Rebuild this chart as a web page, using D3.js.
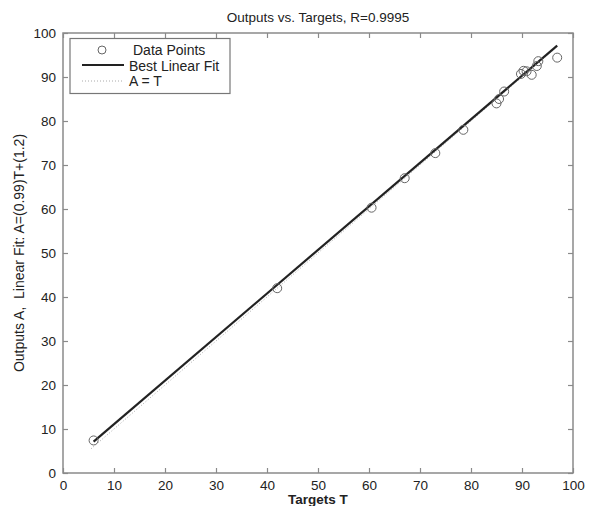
<!DOCTYPE html>
<html>
<head>
<meta charset="utf-8">
<script src="https://cdn.jsdelivr.net/npm/d3@7"></script>
<style>
  body { margin: 0; background: #fff; }
  text { font-family: "Liberation Sans", Arial, sans-serif; fill: #222; }
</style>
</head>
<body>
<div id="chart"></div>
<script>
(function(){
  // data
  const targets = [6, 42, 60.5, 67, 73, 78.5, 85, 85.5, 86.5, 89.8, 90.3, 90.9, 91.9, 92.9, 93.2, 96.9];
  const outputs = [7.4, 42, 60.3, 67, 72.7, 78, 84, 85, 86.7, 90.7, 91.4, 91.3, 90.5, 92.5, 93.6, 94.4];
  const fitSlope = 0.99;
  const fitIntercept = 1.2;
  const fitRange = [6, 96.9];
  const xTicks = [0, 10, 20, 30, 40, 50, 60, 70, 80, 90, 100];
  const yTicks = [0, 10, 20, 30, 40, 50, 60, 70, 80, 90, 100];
  const legendItems = ["Data Points", "Best Linear Fit", "A = T"];

  const width = 590, height = 506;
  const left = 63, right = 573, top = 33, bottom = 473;

  const svg = d3.select("#chart").append("svg")
    .attr("width", width)
    .attr("height", height);

  const x = d3.scaleLinear().domain([0, 100]).range([left, right]);
  const y = d3.scaleLinear().domain([0, 100]).range([bottom, top]);

  const axisColor = "#8a8a8a";

  // frame
  svg.append("rect")
    .attr("x", left).attr("y", top)
    .attr("width", right - left).attr("height", bottom - top)
    .attr("fill", "none").attr("stroke", axisColor).attr("stroke-width", 1.5);

  // ticks (inside, mirrored)
  function styleAxis(g) {
    g.select(".domain").remove();
    g.selectAll(".tick line").attr("stroke", axisColor).attr("stroke-width", 1.2);
    g.selectAll(".tick text")
      .style("font-size", "13.5px")
      .style("font-family", "'Liberation Sans', Arial, sans-serif")
      .attr("fill", "#222");
  }
  svg.append("g").attr("transform", `translate(0,${bottom})`)
    .call(d3.axisBottom(x).tickValues(xTicks).tickSizeInner(-5).tickSizeOuter(0).tickPadding(7))
    .call(styleAxis);
  svg.append("g").attr("transform", `translate(0,${top})`)
    .call(d3.axisTop(x).tickValues(xTicks).tickSizeInner(-5).tickSizeOuter(0).tickFormat(""))
    .call(styleAxis);
  svg.append("g").attr("transform", `translate(${left},0)`)
    .call(d3.axisLeft(y).tickValues(yTicks).tickSizeInner(-5).tickSizeOuter(0).tickPadding(7))
    .call(styleAxis);
  svg.append("g").attr("transform", `translate(${right},0)`)
    .call(d3.axisRight(y).tickValues(yTicks).tickSizeInner(-5).tickSizeOuter(0).tickFormat(""))
    .call(styleAxis);

  // A = T line
  svg.append("line")
    .attr("x1", x(fitRange[0] - 0.5)).attr("y1", y(fitRange[0] - 0.5))
    .attr("x2", x(fitRange[1])).attr("y2", y(fitRange[1]))
    .attr("stroke", "#aaa").attr("stroke-width", 1).attr("stroke-dasharray", "1,2");

  // best fit
  const fitLine = d3.line().x(d => x(d)).y(d => y(fitSlope * d + fitIntercept));
  svg.append("path")
    .datum(fitRange)
    .attr("d", fitLine)
    .attr("fill", "none").attr("stroke", "#222").attr("stroke-width", 2.2);

  // data points
  svg.append("g").selectAll("circle")
    .data(targets.map((t, i) => [t, outputs[i]]))
    .join("circle")
    .attr("cx", d => x(d[0]))
    .attr("cy", d => y(d[1]))
    .attr("r", 4.5)
    .attr("fill", "none").attr("stroke", "#666").attr("stroke-width", 1);

  // legend
  const lg = svg.append("g");
  lg.append("rect")
    .attr("x", 70).attr("y", 38.5).attr("width", 160).attr("height", 55)
    .attr("fill", "#fff").attr("stroke", "#777").attr("stroke-width", 1.2);
  lg.append("circle").attr("cx", 102).attr("cy", 50).attr("r", 4)
    .attr("fill", "none").attr("stroke", "#666");
  lg.append("line").attr("x1", 82).attr("x2", 124).attr("y1", 65).attr("y2", 65)
    .attr("stroke", "#222").attr("stroke-width", 2.2);
  lg.append("line").attr("x1", 82).attr("x2", 124).attr("y1", 81).attr("y2", 81)
    .attr("stroke", "#aaa").attr("stroke-dasharray", "1,2");
  lg.selectAll("text.leg")
    .data(legendItems)
    .join("text")
    .attr("class", "leg")
    .attr("x", (d, i) => i === 0 ? 133 : 129)
    .attr("y", (d, i) => 55 + i * 15.5)
    .style("font-size", "14px")
    .text(d => d);

  // title and labels
  svg.append("text")
    .attr("x", (left + right) / 2).attr("y", 22)
    .attr("text-anchor", "middle")
    .style("font-size", "13.5px")
    .text("Outputs vs. Targets, R=0.9995");
  svg.append("text")
    .attr("x", (left + right) / 2).attr("y", 504)
    .attr("text-anchor", "middle")
    .style("font-size", "13.5px")
    .style("font-weight", "bold")
    .text("Targets T");
  svg.append("text")
    .attr("transform", `translate(24,${(top + bottom) / 2}) rotate(-90)`)
    .attr("text-anchor", "middle")
    .style("font-size", "14px")
    .style("white-space", "pre")
    .text("Outputs A,  Linear Fit: A=(0.99)T+(1.2)");
})();
</script>
</body>
</html>
